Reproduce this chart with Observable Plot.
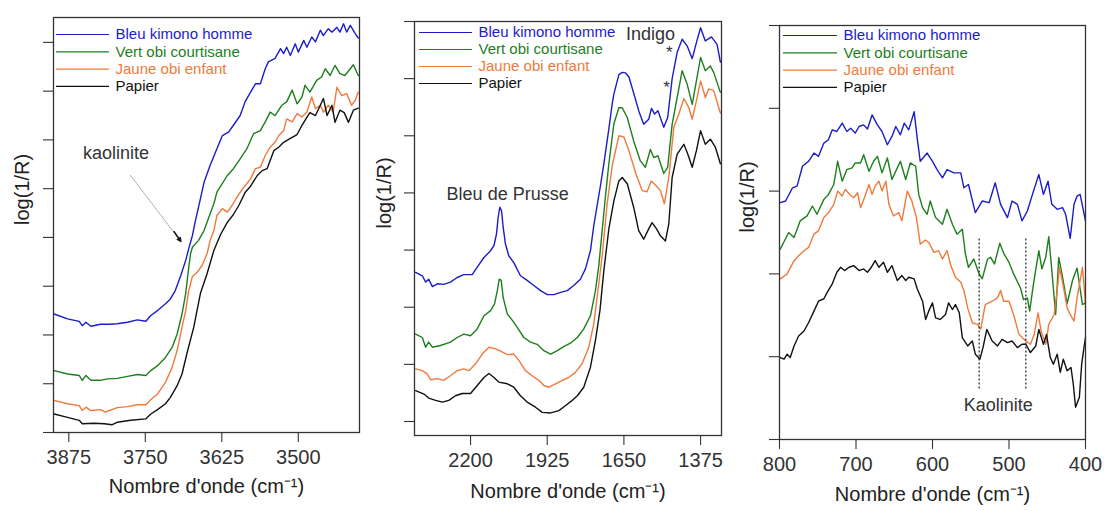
<!DOCTYPE html>
<html><head><meta charset="utf-8">
<script src="https://cdn.jsdelivr.net/npm/d3@7"></script>
<script src="https://cdn.jsdelivr.net/npm/@observablehq/plot@0.6"></script>
<style>
body{margin:0;background:#fff;}
#wrap{position:relative;width:1104px;height:511px;overflow:hidden;}
#wrap svg{position:absolute;top:0;}
</style></head><body><div id="wrap"></div>
<script>
// ---------- categories ----------
const seriesNames = ["Bleu kimono homme", "Vert obi courtisane", "Jaune obi enfant", "Papier"];
const xLabel = "Nombre d'onde (cm\u207B\u00B9)";
const yLabel = "log(1/R)";

// ---------- tick values ----------
const p1XTicks = [3875, 3750, 3625, 3500];
const p2XTicks = [2200, 1925, 1650, 1375];
const p3XTicks = [800, 700, 600, 500, 400];
const p1YTicks = [0, 1, 2, 3, 4, 5, 6, 7, 8];
const p2YTicks = [0, 1, 2, 3, 4, 5, 6, 7];
const p3YTicks = [0, 1, 2, 3, 4, 5];

// ---------- panel 1 (3900-3400 cm-1) [wavenumber, log(1/R) arb.] ----------
const p1Bleu = [[3899,2.43],[3877,2.33],[3858,2.28],[3853,2.19],[3847,2.26],[3839,2.18],[3823,2.22],[3809,2.22],[3796,2.23],[3779,2.26],[3763,2.31],[3749,2.28],[3741,2.40],[3730,2.50],[3717,2.64],[3709,2.74],[3701,2.91],[3692,3.22],[3684,3.53],[3679,3.77],[3673,4.04],[3668,4.35],[3663,4.62],[3654,5.13],[3644,5.48],[3633,5.82],[3624,6.09],[3614,6.16],[3606,6.30],[3595,6.50],[3587,6.78],[3578,6.98],[3570,7.15],[3562,7.15],[3554,7.46],[3549,7.60],[3538,7.67],[3529,7.87],[3524,7.77],[3519,7.90],[3513,7.73],[3505,7.97],[3500,7.80],[3491,8.04],[3486,7.90],[3478,8.11],[3472,8.01],[3464,8.25],[3459,8.14],[3451,8.28],[3445,8.21],[3437,8.31],[3432,8.21],[3426,8.38],[3421,8.21],[3415,8.35],[3407,8.18],[3402,8.09]];
const p1Vert = [[3899,1.27],[3877,1.20],[3858,1.17],[3853,1.07],[3847,1.17],[3839,1.07],[3823,1.07],[3812,1.10],[3796,1.11],[3779,1.15],[3763,1.19],[3749,1.17],[3741,1.27],[3730,1.37],[3717,1.54],[3706,1.75],[3698,2.02],[3690,2.43],[3684,2.85],[3679,3.39],[3676,3.67],[3673,3.80],[3663,3.94],[3654,4.14],[3646,4.42],[3638,4.69],[3633,4.93],[3616,5.27],[3606,5.41],[3595,5.61],[3584,5.82],[3573,6.13],[3562,6.19],[3554,6.37],[3546,6.57],[3538,6.50],[3527,6.71],[3519,6.78],[3510,7.02],[3502,6.74],[3494,6.88],[3489,7.12],[3481,6.98],[3470,7.22],[3462,7.29],[3456,7.46],[3448,7.32],[3440,7.53],[3432,7.36],[3424,7.32],[3415,7.46],[3410,7.54],[3402,7.32]];
const p1Jaune = [[3899,0.66],[3877,0.59],[3858,0.55],[3853,0.45],[3847,0.52],[3839,0.45],[3823,0.47],[3815,0.42],[3796,0.51],[3779,0.53],[3763,0.57],[3749,0.57],[3741,0.67],[3730,0.79],[3717,1.03],[3706,1.34],[3698,1.68],[3690,2.16],[3684,2.50],[3679,2.91],[3673,3.20],[3665,3.29],[3657,3.43],[3649,3.67],[3644,3.94],[3638,4.14],[3633,4.45],[3624,4.59],[3616,4.52],[3608,4.66],[3600,4.83],[3589,5.03],[3578,5.20],[3570,5.41],[3562,5.44],[3554,5.68],[3546,5.85],[3538,5.95],[3532,6.09],[3524,6.19],[3519,6.43],[3510,6.37],[3502,6.54],[3494,6.47],[3486,6.57],[3478,6.88],[3472,6.64],[3464,6.71],[3459,6.57],[3451,6.71],[3443,6.57],[3437,7.08],[3429,6.91],[3421,6.95],[3413,6.71],[3407,6.81],[3402,6.98]];
const p1Papier = [[3899,0.38],[3877,0.31],[3858,0.25],[3853,0.18],[3834,0.19],[3817,0.18],[3804,0.16],[3796,0.21],[3774,0.25],[3749,0.28],[3741,0.38],[3730,0.47],[3717,0.59],[3709,0.72],[3698,0.96],[3690,1.20],[3682,1.62],[3671,2.15],[3660,2.85],[3649,3.26],[3638,3.73],[3627,4.06],[3616,4.31],[3606,4.47],[3597,4.66],[3587,4.92],[3578,5.05],[3567,5.27],[3559,5.37],[3551,5.41],[3540,5.78],[3532,5.85],[3524,5.95],[3513,6.03],[3502,6.11],[3494,6.30],[3486,6.46],[3481,6.56],[3472,6.50],[3464,6.71],[3459,6.85],[3453,6.50],[3445,6.71],[3440,6.36],[3432,6.61],[3425,6.56],[3418,6.36],[3410,6.61],[3402,6.65]];

// ---------- panel 2 (2400-1300 cm-1) ----------
const p2Bleu = [[2397,2.61],[2373,2.55],[2361,2.44],[2350,2.49],[2337,2.36],[2319,2.41],[2296,2.40],[2272,2.44],[2248,2.52],[2224,2.57],[2194,2.57],[2176,2.70],[2152,2.87],[2128,2.99],[2116,3.08],[2107,3.28],[2101,3.57],[2095,3.75],[2089,3.69],[2083,3.40],[2075,3.11],[2063,2.90],[2045,2.78],[2021,2.55],[1997,2.47],[1973,2.38],[1949,2.29],[1925,2.22],[1901,2.22],[1877,2.26],[1853,2.29],[1830,2.38],[1806,2.49],[1788,2.67],[1770,2.99],[1758,3.43],[1746,3.78],[1734,4.13],[1722,4.51],[1704,5.12],[1692,5.56],[1686,5.73],[1668,6.07],[1656,6.11],[1644,6.10],[1632,6.03],[1615,5.75],[1597,5.44],[1579,5.20],[1561,5.29],[1551,5.48],[1540,5.38],[1528,5.44],[1507,5.15],[1493,5.32],[1477,6.00],[1459,6.46],[1441,6.69],[1423,6.57],[1405,6.35],[1390,6.63],[1375,6.89],[1358,6.66],[1336,6.73],[1316,6.60],[1304,6.29]];
const p2Vert = [[2397,1.53],[2373,1.47],[2361,1.30],[2350,1.39],[2337,1.30],[2308,1.33],[2272,1.39],[2248,1.47],[2224,1.53],[2200,1.50],[2176,1.62],[2152,1.85],[2128,1.94],[2114,2.06],[2104,2.29],[2097,2.49],[2090,2.47],[2083,2.17],[2068,1.88],[2050,1.77],[2033,1.65],[2009,1.47],[1985,1.39],[1961,1.35],[1937,1.24],[1913,1.18],[1889,1.24],[1866,1.31],[1842,1.37],[1817,1.47],[1794,1.62],[1770,1.85],[1752,2.29],[1740,2.73],[1728,3.34],[1716,3.95],[1704,4.51],[1686,5.21],[1668,5.49],[1656,5.49],[1638,5.32],[1615,4.91],[1591,4.56],[1573,4.45],[1555,4.76],[1543,4.62],[1528,4.65],[1507,4.34],[1493,4.45],[1477,5.20],[1459,5.67],[1441,6.14],[1423,5.90],[1405,5.55],[1390,5.96],[1375,6.37],[1358,6.14],[1340,6.22],[1328,6.11],[1304,5.76]];
const p2Jaune = [[2397,0.92],[2373,0.89],[2355,0.83],[2343,0.73],[2319,0.75],[2296,0.72],[2272,0.80],[2248,0.89],[2224,0.92],[2206,0.89],[2182,1.01],[2158,1.18],[2134,1.30],[2110,1.27],[2092,1.23],[2068,1.17],[2045,1.18],[2027,1.07],[2003,0.89],[1979,0.80],[1955,0.72],[1937,0.63],[1919,0.60],[1895,0.66],[1871,0.72],[1848,0.77],[1824,0.86],[1800,1.01],[1776,1.30],[1758,1.71],[1740,2.41],[1728,2.90],[1710,3.81],[1692,4.48],[1668,5.00],[1650,4.98],[1632,4.74],[1608,4.35],[1584,4.04],[1567,4.02],[1552,4.21],[1537,4.14],[1519,4.04],[1505,3.81],[1489,4.27],[1471,5.15],[1453,5.38],[1435,5.65],[1417,5.49],[1405,5.29],[1390,5.61],[1375,5.96],[1358,5.67],[1346,5.82],[1328,5.79],[1304,5.40]];
const p2Papier = [[2397,0.54],[2367,0.48],[2350,0.41],[2325,0.37],[2301,0.34],[2278,0.37],[2254,0.45],[2230,0.49],[2200,0.49],[2176,0.63],[2152,0.77],[2134,0.84],[2116,0.77],[2099,0.69],[2068,0.66],[2045,0.60],[2021,0.45],[1997,0.34],[1967,0.25],[1943,0.16],[1913,0.15],[1883,0.19],[1859,0.28],[1835,0.37],[1817,0.45],[1794,0.60],[1770,0.95],[1752,1.42],[1736,1.94],[1722,2.64],[1704,3.37],[1686,3.86],[1668,4.21],[1656,4.27],[1638,4.16],[1615,3.75],[1597,3.34],[1579,3.19],[1561,3.37],[1549,3.48],[1533,3.37],[1519,3.25],[1501,3.16],[1489,3.46],[1477,4.27],[1459,4.68],[1435,4.85],[1421,4.68],[1405,4.45],[1390,4.74],[1375,5.09],[1358,4.85],[1340,4.94],[1322,4.80],[1304,4.51]];

// ---------- panel 3 (800-400 cm-1) ----------
const p3Bleu = [[799,2.86],[792,2.88],[783,3.04],[777,3.06],[770,3.30],[762,3.36],[755,3.46],[749,3.42],[742,3.58],[736,3.62],[731,3.74],[725,3.72],[718,3.82],[712,3.72],[707,3.76],[701,3.70],[696,3.78],[690,3.80],[685,3.75],[679,3.92],[672,3.80],[666,3.72],[659,3.56],[653,3.66],[648,3.78],[642,3.68],[637,3.82],[631,3.74],[624,3.96],[620,3.64],[616,3.36],[607,3.46],[600,3.36],[594,3.26],[587,3.16],[581,3.26],[572,3.22],[563,3.22],[559,3.04],[553,3.08],[544,2.74],[535,2.88],[526,2.86],[518,3.10],[511,2.84],[502,2.68],[496,2.88],[489,2.84],[483,2.64],[476,2.76],[468,3.00],[461,3.20],[455,2.96],[449,3.12],[444,2.84],[437,2.78],[430,2.80],[426,2.72],[420,2.43],[415,2.84],[411,2.94],[407,2.96],[400,2.64]];
const p3Vert = [[799,2.30],[788,2.50],[781,2.44],[773,2.64],[764,2.70],[757,2.82],[751,2.72],[742,2.90],[736,2.96],[729,3.08],[724,3.36],[718,3.12],[712,3.26],[705,3.28],[701,3.34],[694,3.34],[690,3.44],[683,3.24],[677,3.36],[672,3.42],[666,3.22],[659,3.40],[653,3.14],[646,3.28],[642,3.36],[635,3.14],[629,3.34],[622,3.30],[618,2.96],[613,2.80],[607,2.72],[603,2.88],[596,2.68],[587,2.60],[581,2.78],[574,2.60],[568,2.48],[561,2.54],[557,2.24],[553,2.08],[546,2.18],[539,2.00],[535,1.94],[528,2.18],[524,2.20],[519,2.12],[512,2.37],[507,2.25],[500,2.14],[494,2.00],[485,1.83],[481,1.69],[476,1.71],[473,1.55],[468,1.88],[461,2.28],[457,2.06],[452,2.20],[448,2.45],[444,2.04],[439,1.51],[435,2.20],[430,1.96],[424,1.64],[417,1.92],[411,2.07],[404,1.63],[400,1.65]];
const p3Jaune = [[799,1.94],[790,2.00],[781,2.16],[775,2.22],[768,2.28],[762,2.32],[755,2.48],[749,2.52],[742,2.68],[736,2.74],[729,2.84],[724,3.00],[718,2.94],[714,3.02],[708,2.96],[703,2.92],[698,2.98],[694,2.80],[689,2.92],[683,3.08],[679,2.96],[675,3.06],[670,3.12],[666,3.00],[661,3.12],[657,2.84],[651,2.70],[644,2.74],[640,2.64],[633,3.00],[627,2.88],[621,2.68],[616,2.36],[609,2.41],[605,2.38],[598,2.26],[592,2.28],[587,2.18],[581,2.28],[576,2.10],[570,1.96],[563,1.90],[559,1.80],[554,1.59],[548,1.41],[541,1.39],[537,1.33],[531,1.63],[522,1.67],[515,1.71],[511,1.80],[507,1.67],[500,1.67],[494,1.51],[487,1.27],[478,1.19],[472,1.15],[467,1.27],[462,1.53],[458,1.31],[452,1.15],[448,1.39],[441,1.51],[437,1.80],[434,2.08],[428,1.80],[424,1.59],[420,1.51],[415,1.43],[411,1.71],[404,2.08],[400,1.65]];
const p3Papier = [[799,0.99],[794,0.97],[790,1.03],[786,0.99],[781,1.13],[775,1.25],[768,1.31],[762,1.41],[755,1.55],[749,1.67],[742,1.70],[738,1.77],[731,1.88],[725,2.02],[720,2.08],[715,2.04],[709,2.08],[703,2.10],[696,2.04],[690,2.06],[685,2.02],[680,2.08],[675,2.16],[670,2.08],[664,2.14],[659,2.02],[653,2.10],[646,1.92],[640,1.98],[635,1.92],[631,1.96],[624,1.94],[620,1.82],[613,1.67],[609,1.45],[605,1.55],[600,1.65],[596,1.47],[590,1.45],[583,1.51],[579,1.65],[574,1.57],[570,1.63],[565,1.53],[561,1.23],[554,1.13],[548,1.19],[544,1.03],[538,0.97],[534,1.11],[529,1.33],[522,1.19],[515,1.13],[509,1.21],[502,1.17],[496,1.19],[489,1.11],[483,1.15],[478,1.15],[472,1.05],[465,1.13],[461,1.33],[455,1.15],[451,1.27],[446,0.99],[442,0.91],[437,1.03],[433,0.81],[429,0.97],[424,0.83],[419,0.87],[416,0.67],[413,0.39],[408,0.51],[405,0.91],[402,1.11],[400,1.23]];

// ---------- annotations ----------
const p1Notes = [{text: "kaolinite", x: 3798, y: 5.72}];
const p1Arrow = [{x1: 3774, y1: 5.27, x2: 3694, y2: 3.95}];
const p1ArrowHead = [{x1: 3703, y1: 4.12, x2: 3692, y2: 3.92}];
const p2Notes = [{text: "Bleu de Prusse", x: 2067, y: 3.97}, {text: "Indigo", x: 1555, y: 6.77}];
const p2Stars = [{x: 1487, y: 6.45}, {x: 1497, y: 5.84}];
const p3Notes = [{text: "Kaolinite", x: 514, y: 0.41}];
const p3KaolX = [539, 478];

// ---------- styles / layout ----------
const colors = ["#1c1cc8", "#1e7e1e", "#ef7a3c", "#111111"];
const FONT = "'Liberation Sans', Arial, Helvetica, sans-serif";
const H = 511;

const panels = [
  {left: 0, width: 368, mt: 17, mb: 79, ml: 53, mr: 9, xDomain: [3900, 3400], yDomain: [0, 8.51],
   xTicks: p1XTicks, yTicks: p1YTicks, series: [p1Bleu, p1Vert, p1Jaune, p1Papier],
   leg: {top: 17, step: 17.3, x0: 3, x1: 56, tx: 62}, ylDx: -31, xlDy: 60},
  {left: 370, width: 365, mt: 21, mb: 76, ml: 44, mr: 14, xDomain: [2401, 1300], yDomain: [-0.245, 7],
   xTicks: p2XTicks, yTicks: p2YTicks, series: [p2Bleu, p2Vert, p2Jaune, p2Papier],
   leg: {top: 11, step: 17, x0: 5, x1: 58, tx: 64}, ylDx: -30, xlDy: 62},
  {left: 735, width: 369, mt: 25, mb: 72, ml: 44, mr: 19, xDomain: [800, 400], yDomain: [0, 5],
   xTicks: p3XTicks, yTicks: p3YTicks, series: [p3Bleu, p3Vert, p3Jaune, p3Papier],
   leg: {top: 10, step: 17.3, x0: 4, x1: 58, tx: 64}, ylDx: -32, xlDy: 61}
];

function extras(i) {
  if (i === 0) return [
    Plot.arrow(p1Arrow, {x1: "x1", y1: "y1", x2: "x2", y2: "y2", stroke: "#8a8a8a", strokeWidth: 0.8, strokeDasharray: "1.5,1.2", headLength: 0}),
    Plot.arrow(p1ArrowHead, {x1: "x1", y1: "y1", x2: "x2", y2: "y2", stroke: "#111", strokeWidth: 1.6, headLength: 11, headAngle: 50}),
    Plot.text(p1Notes, {x: "x", y: "y", text: "text", fontSize: 18, fill: "#333"})
  ];
  if (i === 1) return [
    Plot.text(p2Notes, {x: "x", y: "y", text: "text", fontSize: 18, fill: "#333"}),
    Plot.text(p2Stars, {x: "x", y: "y", text: () => "*", fontSize: 17, fill: "#333"})
  ];
  return [
    Plot.ruleX(p3KaolX, {x: d => d, y1: () => 0.61, y2: () => 2.43, stroke: "#222", strokeWidth: 1.2, strokeDasharray: "2,2"}),
    Plot.text(p3Notes, {x: "x", y: "y", text: "text", fontSize: 18, fill: "#333"})
  ];
}

const wrap = document.getElementById("wrap");
panels.forEach((cfg, pi) => {
  const fw = cfg.width - cfg.ml - cfg.mr;
  const fh = H - cfg.mt - cfg.mb;
  const [xa, xb] = cfg.xDomain, [ya, yb] = cfg.yDomain;
  const fx = p => xa + p / fw * (xb - xa);
  const fy = p => yb - p / fh * (yb - ya);
  const rows = seriesNames.map((name, i) => ({name, color: colors[i], y: fy(cfg.leg.top + i * cfg.leg.step)}));
  const chart = Plot.plot({
    width: cfg.width, height: H,
    marginTop: cfg.mt, marginBottom: cfg.mb, marginLeft: cfg.ml, marginRight: cfg.mr,
    x: {domain: cfg.xDomain},
    y: {domain: cfg.yDomain},
    color: {type: "identity"},
    style: {fontFamily: FONT, color: "#333", background: "transparent", overflow: "visible"},
    marks: [
      Plot.axisY({ticks: cfg.yTicks, tickSize: 10, tickFormat: () => "", label: null, stroke: "#333", strokeWidth: 1.1}),
      Plot.axisX({ticks: cfg.xTicks, tickSize: 10, tickPadding: 7, fontSize: 20, tickFormat: d => String(d), label: null, stroke: "#333", strokeWidth: 1.1}),
      ...cfg.series.map((s, i) => Plot.line(s, {x: d => d[0], y: d => d[1], stroke: colors[i], strokeWidth: 1.4})),
      Plot.ruleY(rows, {y: "y", x1: () => fx(cfg.leg.x0), x2: () => fx(cfg.leg.x1), stroke: "color", strokeWidth: 1.2}),
      Plot.text(rows, {x: () => fx(cfg.leg.tx), y: "y", text: "name", fill: "color", textAnchor: "start", fontSize: 15}),
      Plot.text([xLabel], {frameAnchor: "bottom", dy: cfg.xlDy, text: d => d, fontSize: 20, fill: "#222"}),
      Plot.text([yLabel], {frameAnchor: "left", dx: cfg.ylDx, rotate: -90, text: d => d, fontSize: 20, fill: "#222"}),
      ...extras(pi),
      Plot.frame({stroke: "#333", strokeWidth: 1.3})
    ]
  });
  chart.style.left = cfg.left + "px";
  wrap.appendChild(chart);
});
</script>
</body></html>
